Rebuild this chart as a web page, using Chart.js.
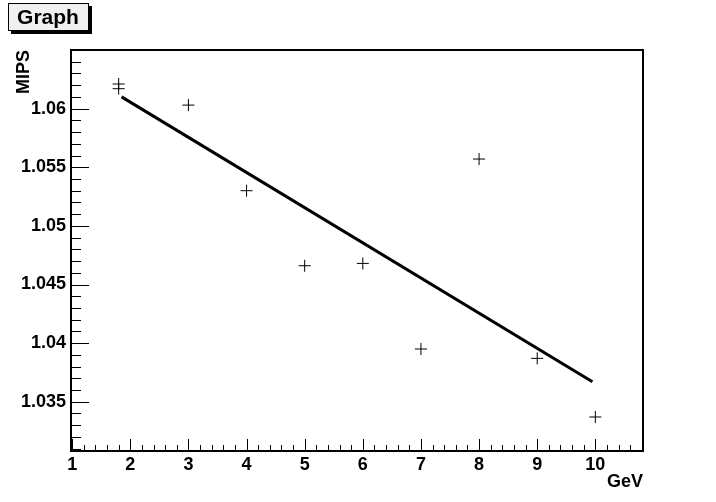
<!DOCTYPE html>
<html>
<head>
<meta charset="utf-8">
<script src="https://cdn.jsdelivr.net/npm/chart.js@4/dist/chart.umd.min.js"></script>
<style>
  body { margin: 0; background: #fff; }
  canvas { display: block; }
</style>
</head>
<body>
<canvas id="myChart" width="716" height="502"></canvas>
<script>
// data
const gev  = [1.8, 1.8, 3, 4, 5, 6, 7, 8, 9, 10];
const mips = [1.0621, 1.0617, 1.0603, 1.0530, 1.0466, 1.0468, 1.0395, 1.0557, 1.0387, 1.0337];

// straight fit line, end points
const fitX = [1.85, 9.95];
const fitY = [1.0610, 1.0367];

// axis ticks
const xTicks = [1, 2, 3, 4, 5, 6, 7, 8, 9, 10];
const xTickLabels = ['1', '2', '3', '4', '5', '6', '7', '8', '9', '10'];
const yTicks = [1.035, 1.04, 1.045, 1.05, 1.055, 1.06];
const yTickLabels = ['1.035', '1.04', '1.045', '1.05', '1.055', '1.06'];

const xMinorStep = 0.2;
const yMinorStep = 0.001;
const yMajorStep = 0.005;

const labelFont = { family: 'Liberation Sans, Arial, sans-serif', size: 18, weight: 'bold' };

//frame and inward ticks, root style
const frameTicks = {
    id: 'frameTicks',
    beforeDatasetsDraw(chart) {
        const { ctx, chartArea: a, scales: { x, y } } = chart;
        ctx.save();
        ctx.strokeStyle = '#000';
        ctx.lineWidth = 1;
        ctx.beginPath();

        for (let i = Math.ceil(x.min / xMinorStep - 1e-6); i * xMinorStep <= x.max + 1e-9; i++) {
            const v = i * xMinorStep;
            const px = Math.round(x.getPixelForValue(v)) + 0.5;
            const major = Math.abs(v - Math.round(v)) < 1e-6;
            ctx.moveTo(px, a.bottom);
            ctx.lineTo(px, a.bottom - (major ? 12 : 6));
        }

        for (let i = Math.ceil(y.min / yMinorStep - 1e-6); i * yMinorStep <= y.max + 1e-9; i++) {
            const v = i * yMinorStep;
            const py = Math.round(y.getPixelForValue(v)) + 0.5;
            const r = v / yMajorStep;
            const major = Math.abs(r - Math.round(r)) < 1e-6;
            ctx.moveTo(a.left, py);
            ctx.lineTo(a.left + (major ? 18 : 10), py);
        }
        ctx.stroke();

        ctx.lineWidth = 2;
        ctx.strokeRect(a.left, a.top, a.right - a.left, a.bottom - a.top);
        ctx.restore();
    }
};

//the little "Graph" box top left
const titleBox = {
    id: 'titleBox',
    afterDraw(chart) {
        const ctx = chart.ctx;
        ctx.save();
        ctx.fillStyle = '#000';
        ctx.fillRect(11, 6, 81, 28);
        ctx.fillStyle = '#f0f0f0';
        ctx.fillRect(8, 3, 81, 28);
        ctx.strokeStyle = '#000';
        ctx.lineWidth = 1;
        ctx.strokeRect(8.5, 3.5, 80, 27);
        ctx.fillStyle = '#000';
        ctx.font = 'bold 21px Liberation Sans, Arial, sans-serif';
        ctx.textAlign = 'center';
        ctx.textBaseline = 'alphabetic';
        ctx.fillText('Graph', 48, 24);
        ctx.restore();
    }
};

const ctx = document.getElementById('myChart').getContext('2d');
const myChart = new Chart(ctx, {
    type: 'scatter',
    data: {
        datasets: [
        {
            label: 'points',
            data: gev.map((v, i) => ({ x: v, y: mips[i] })),
            pointStyle: 'cross',
            pointRadius: 6,
            pointBorderWidth: 1,
            borderColor: '#000',
            backgroundColor: '#000',
            showLine: false
        },
        {
            label: 'fit',
            type: 'line',
            data: fitX.map((v, i) => ({ x: v, y: fitY[i] })),
            borderColor: '#000',
            borderWidth: 3,
            pointRadius: 0,
            fill: false
        }
        ]
    },
    options: {
        responsive: false,
        animation: false,
        layout: { padding: { top: 50, right: 73, left: 0, bottom: 0 } },
        plugins: {
            legend: { display: false },
            tooltip: { enabled: false }
        },
        scales: {
            x: {
                type: 'linear',
                position: 'bottom',
                min: 0.98,
                max: 10.82,
                grid: { display: false, drawTicks: false },
                border: { display: false },
                afterBuildTicks: (scale) => { scale.ticks = xTicks.map(v => ({ value: v })); },
                afterFit: (scale) => { scale.height = 51; },
                ticks: {
                    color: '#000',
                    font: labelFont,
                    padding: 3,
                    maxRotation: 0,
                    autoSkip: false,
                    callback: (v) => xTickLabels[xTicks.indexOf(v)]
                },
                title: {
                    display: true,
                    text: 'GeV',
                    align: 'end',
                    color: '#000',
                    font: labelFont,
                    padding: { top: 0, bottom: 9 }
                }
            },
            y: {
                type: 'linear',
                min: 1.0308,
                max: 1.065,
                grid: { display: false, drawTicks: false },
                border: { display: false },
                afterBuildTicks: (scale) => { scale.ticks = yTicks.map(v => ({ value: v })); },
                afterFit: (scale) => { scale.width = 71; },
                ticks: {
                    color: '#000',
                    font: labelFont,
                    padding: 5,
                    autoSkip: false,
                    callback: (v) => yTickLabels[yTicks.indexOf(v)]
                },
                title: {
                    display: true,
                    text: 'MIPS',
                    align: 'end',
                    color: '#000',
                    font: labelFont,
                    padding: { top: 13, bottom: 0 }
                }
            }
        }
    },
    plugins: [frameTicks, titleBox]
});
</script>
</body>
</html>
